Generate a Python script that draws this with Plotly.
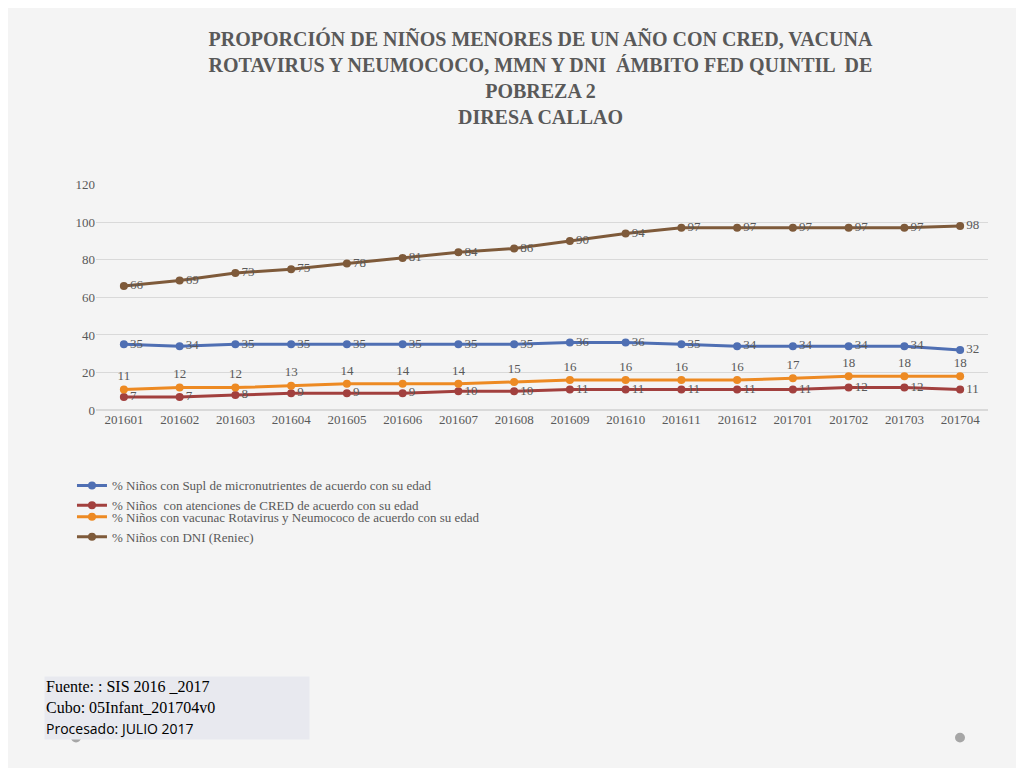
import plotly.graph_objs as go

periodos = ["201601", "201602", "201603", "201604", "201605", "201606", "201607", "201608",
            "201609", "201610", "201611", "201612", "201701", "201702", "201703", "201704"]
micronutrientes = [35, 34, 35, 35, 35, 35, 35, 35, 36, 36, 35, 34, 34, 34, 34, 32]
cred = [7, 7, 8, 9, 9, 9, 10, 10, 11, 11, 11, 11, 11, 12, 12, 11]
vacunas = [11, 12, 12, 13, 14, 14, 14, 15, 16, 16, 16, 16, 17, 18, 18, 18]
dni = [66, 69, 73, 75, 78, 81, 84, 86, 90, 94, 97, 97, 97, 97, 97, 98]

series = [
    ("% Niños con Supl de micronutrientes de acuerdo con su edad", micronutrientes, "#4f6fb3", "middle right", "legend"),
    ("% Niños  con atenciones de CRED de acuerdo con su edad", cred, "#a2403e", "middle right", "legend"),
    ("% Niños con vacunac Rotavirus y Neumococo de acuerdo con su edad", vacunas, "#ed8a23", "top center", "legend2"),
    ("% Niños con DNI (Reniec)", dni, "#7e5a3a", "middle right", "legend2"),
]

fig = go.Figure()
for nombre, valores, color, pos, leg in series:
    fig.add_trace(go.Scatter(x=periodos, y=valores, name=nombre, mode="lines+markers+text",
                             line=dict(color=color, width=3), marker=dict(size=8, color=color),
                             text=[str(v) for v in valores], textposition=pos, legend=leg,
                             textfont=dict(color="#595959", size=13)))

leg_common = dict(orientation="h", xanchor="left", yanchor="middle", entrywidth=460,
                  entrywidthmode="pixels", font=dict(size=13), bgcolor="rgba(0,0,0,0)")
fig.update_layout(
    width=1024, height=768,
    paper_bgcolor="#f4f4f4", plot_bgcolor="rgba(0,0,0,0)",
    margin=dict(l=0, r=0, t=0, b=0),
    font=dict(family="Liberation Serif", color="#595959", size=13),
    title=dict(text="<b>PROPORCIÓN DE NIÑOS MENORES DE UN AÑO CON CRED, VACUNA<br>"
                    "ROTAVIRUS Y NEUMOCOCO, MMN Y DNI  ÁMBITO FED QUINTIL  DE<br>"
                    "POBREZA 2<br>DIRESA CALLAO</b>",
               x=0.52, xanchor="center", y=0.95, yanchor="top",
               font=dict(size=20, color="#595959")),
    showlegend=True,
    legend=dict(x=0.07, y=1 - 490/768, **leg_common),
    legend2=dict(x=0.07, y=1 - 522/768, **leg_common),
)
fig.update_xaxes(domain=[88/1024, 980/1024], range=[-0.5, 15.5], type="category",
                 showgrid=False, showline=False, ticks="", tickfont=dict(size=13))
fig.update_yaxes(domain=[1 - 403/768, 1 - 173/768], range=[0, 120], dtick=20,
                 gridcolor="#d9d9d9", zeroline=True, zerolinecolor="#d9d9d9",
                 showline=False, tickfont=dict(size=13))

fig.add_annotation(xref="paper", yref="paper", x=36/1024, y=1 - 674/768, xanchor="left", yanchor="top",
                   text="Fuente: : SIS 2016 _2017<br>Cubo: 05Infant_201704v0<br><span style='font-family:Open Sans;font-size:14px'>Procesado: JULIO 2017</span>",
                   align="left", showarrow=False, bgcolor="#e8e9ef", width=262,
                   font=dict(family="Liberation Serif", size=16, color="black"))
for cx in (68, 952):
    fig.add_shape(type="circle", xref="paper", yref="paper",
                  x0=(cx - 5)/1024, x1=(cx + 5)/1024, y0=1 - 742/768, y1=1 - 732/768,
                  fillcolor="#a6a6a6", line=dict(width=0))

fig.write_html("out.html")
